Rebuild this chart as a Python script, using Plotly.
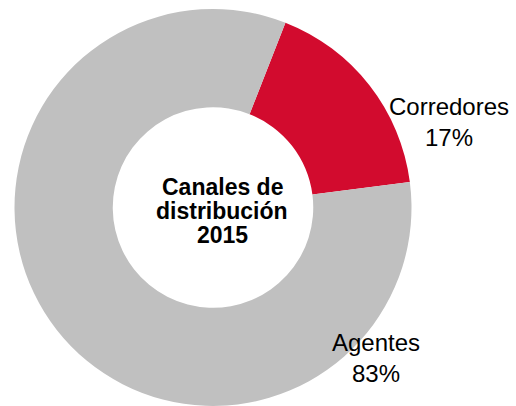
import plotly.graph_objects as go

labels = ["Corredores", "Agentes"]
values = [17, 83]
colors = ["#D20B2E", "#C0C0C0"]
center_lines = ["Canales de", "distribución", "2015"]

W, H = 516, 406
T = 9

fig = go.Figure(go.Pie(
    labels=labels, values=values, hole=0.505, sort=False,
    direction="clockwise", rotation=21.4,
    marker=dict(colors=colors, line=dict(width=0)),
    textinfo="none", hoverinfo="label+percent", showlegend=False,
    domain=dict(x=[13 / W, 413 / W], y=[0, 1]),
))

def py(y):
    return (H - y) / (H - T)

annotations = []
label_pos = [(449, 122.5), (376, 357.5)]
for lab, v, (x, y) in zip(labels, values, label_pos):
    annotations.append(dict(
        text=f"{lab}<br>{v}%", x=x / W, y=py(y), xref="paper", yref="paper",
        xanchor="center", yanchor="middle", showarrow=False,
        font=dict(family="Liberation Sans, Arial", size=24, color="#000000"),
    ))
for line, y in zip(center_lines, [187, 211, 235]):
    annotations.append(dict(
        text=f"<b>{line}</b>", x=222 / W, y=py(y), xref="paper", yref="paper",
        xanchor="center", yanchor="middle", showarrow=False,
        font=dict(family="Liberation Sans, Arial", size=23, color="#000000"),
    ))

fig.update_layout(
    width=W, height=H, margin=dict(l=0, r=0, t=T, b=0),
    paper_bgcolor="white", plot_bgcolor="white",
    annotations=annotations,
)
fig.write_html(
    "out.html",
    config={"displayModeBar": False},
    post_script="document.body.style.margin='0';document.body.style.overflow='hidden';",
)
